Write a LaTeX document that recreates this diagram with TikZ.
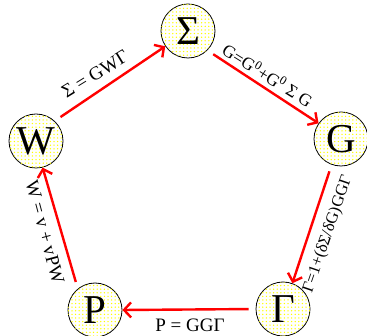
\documentclass[tikz,border=0pt]{standalone}
\usepackage{fontspec}
\setmainfont{Liberation Serif}
\usetikzlibrary{arrows.meta,patterns.meta}
\begin{document}
\begin{tikzpicture}[x=1pt,y=-1pt,
  state/.style={circle, draw=black, line width=0.8pt, minimum size=54pt, inner sep=0pt,
    fill=white, postaction={pattern={Dots[radius=0.75pt,distance=3.6pt]}, pattern color=yellow},
    font=\fontsize{41}{41}\selectfont},
  arr/.style={draw=red, line width=2.4pt, shorten <=7pt,
    -{Straight Barb[length=7pt,width=15pt]}},
  lab/.style={font=\fontsize{19}{19}\selectfont, inner sep=0pt}
]
\useasboundingbox (0,0) rectangle (367,336);
\node[state] (S) at (188,31) {Σ};
\node[state] (W) at (36,141) {W};
\node[state] (G) at (341,139) {G};
\node[state] (Ga) at (283,309) {Γ};
\node[state] (P) at (95,310) {P};

\draw[arr] (W.47) -- (S.214);
\draw[arr] (S.-45) -- (G.145);
\draw[arr] (G.250) -- (Ga.70);
\draw[arr] (Ga.180) -- (P.0);
\draw[arr] (P.129) -- (W.-76);

\node[lab, rotate=31.5] (l1) at (95,74) {Σ = GWΓ};
\node[lab, rotate=-32, font=\fontsize{17.5}{17.5}\selectfont] (l2) at (268,75) {G=G\textsuperscript{0}+G\textsuperscript{0} Σ G};
\node[lab, rotate=71, font=\fontsize{16.5}{16.5}\selectfont] (l3) at (328,234) {Γ=1+(δΣ/δG)GGΓ};
\node[lab, rotate=-75] (l4) at (45,232) {W = v + vPW};
\node[lab] (l5) at (190,325) {P = GGΓ};
\end{tikzpicture}
\end{document}
